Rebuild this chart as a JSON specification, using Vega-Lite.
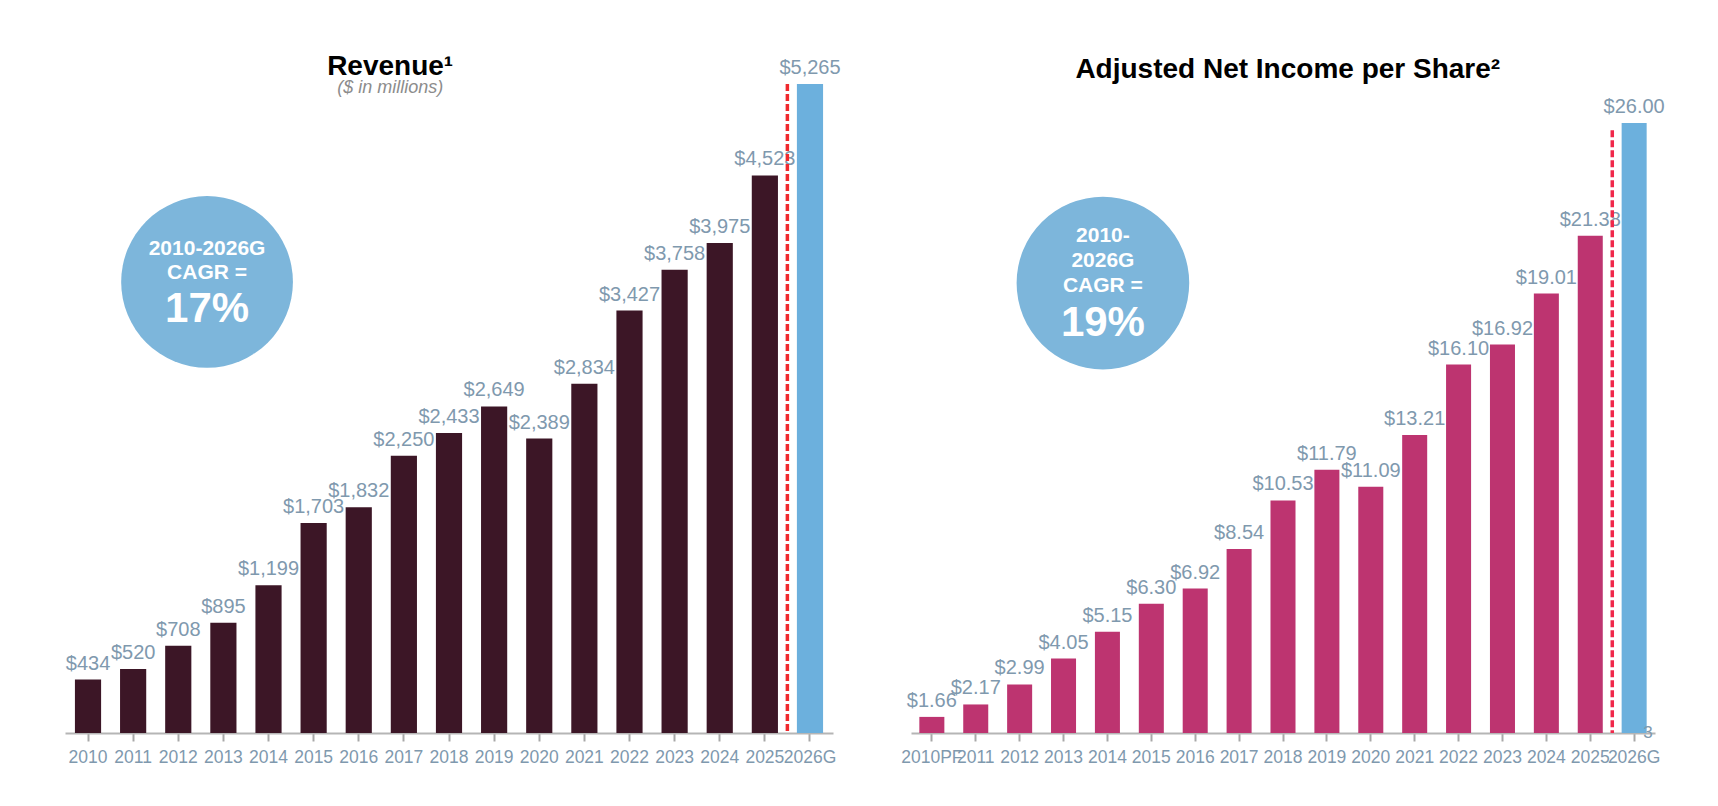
{
  "$schema": "https://vega.github.io/schema/vega-lite/v6.json",
  "background": "white",
  "padding": {"left": 65, "top": 53, "right": 5, "bottom": 5},
  "bounds": "flush",
  "spacing": 78,
  "config": {
    "view": {"stroke": null},
    "font": "Liberation Sans",
    "axis": {"grid": false, "title": null}
  },
  "datasets": {
    "revenue": [
      {"year": "2010", "value": 434, "kind": "Actual"},
      {"year": "2011", "value": 520, "kind": "Actual"},
      {"year": "2012", "value": 708, "kind": "Actual"},
      {"year": "2013", "value": 895, "kind": "Actual"},
      {"year": "2014", "value": 1199, "kind": "Actual"},
      {"year": "2015", "value": 1703, "kind": "Actual"},
      {"year": "2016", "value": 1832, "kind": "Actual"},
      {"year": "2017", "value": 2250, "kind": "Actual"},
      {"year": "2018", "value": 2433, "kind": "Actual"},
      {"year": "2019", "value": 2649, "kind": "Actual"},
      {"year": "2020", "value": 2389, "kind": "Actual"},
      {"year": "2021", "value": 2834, "kind": "Actual"},
      {"year": "2022", "value": 3427, "kind": "Actual"},
      {"year": "2023", "value": 3758, "kind": "Actual"},
      {"year": "2024", "value": 3975, "kind": "Actual"},
      {"year": "2025", "value": 4523, "kind": "Actual"},
      {"year": "2026G", "value": 5265, "kind": "Guidance"}
    ],
    "eps": [
      {"year": "2010PF", "value": 1.66, "kind": "Actual"},
      {"year": "2011", "value": 2.17, "kind": "Actual"},
      {"year": "2012", "value": 2.99, "kind": "Actual"},
      {"year": "2013", "value": 4.05, "kind": "Actual"},
      {"year": "2014", "value": 5.15, "kind": "Actual"},
      {"year": "2015", "value": 6.30, "kind": "Actual"},
      {"year": "2016", "value": 6.92, "kind": "Actual"},
      {"year": "2017", "value": 8.54, "kind": "Actual"},
      {"year": "2018", "value": 10.53, "kind": "Actual"},
      {"year": "2019", "value": 11.79, "kind": "Actual"},
      {"year": "2020", "value": 11.09, "kind": "Actual"},
      {"year": "2021", "value": 13.21, "kind": "Actual"},
      {"year": "2022", "value": 16.10, "kind": "Actual"},
      {"year": "2023", "value": 16.92, "kind": "Actual"},
      {"year": "2024", "value": 19.01, "kind": "Actual"},
      {"year": "2025", "value": 21.38, "kind": "Actual"},
      {"year": "2026G", "value": 26.00, "kind": "Guidance"}
    ]
  },
  "resolve": {"scale": {"x": "independent", "y": "independent", "color": "independent"}},
  "hconcat": [
    {
      "width": 768,
      "height": 649,
      "layer": [
        {
          "data": {"name": "revenue"},
          "mark": {"type": "bar"},
          "encoding": {
            "x": {
              "field": "year", "type": "nominal",
              "scale": {"domain": ["2010","2011","2012","2013","2014","2015","2016","2017","2018","2019","2020","2021","2022","2023","2024","2025","2026G"], "paddingInner": 0.42, "paddingOuter": 0.22},
              "axis": {"labelAngle": 0, "labelFontSize": 17.5, "labelColor": "#7f99ae", "labelPadding": 7, "domainColor": "#b5b5b5", "domainWidth": 2, "tickColor": "#a8a8a8", "tickWidth": 2, "tickSize": 8, "labelOverlap": false}
            },
            "y": {"field": "value", "type": "quantitative", "scale": {"domain": [0, 5265], "nice": false}, "axis": null},
            "color": {"field": "kind", "type": "nominal", "scale": {"domain": ["Actual", "Guidance"], "range": ["#3c1626", "#6cb0dd"]}, "legend": null}
          }
        },
        {
          "data": {"name": "revenue"},
          "mark": {"type": "text", "baseline": "alphabetic", "dy": -10, "fontSize": 20, "color": "#7f99ae"},
          "encoding": {
            "x": {"field": "year", "type": "nominal"},
            "y": {"field": "value", "type": "quantitative", "axis": null},
            "text": {"field": "value", "type": "quantitative", "format": "$,.0f"}
          }
        },
        {
          "data": {"values": [{"year": "2016", "t": "Revenue¹"}]},
          "mark": {"type": "text", "baseline": "alphabetic", "dy": -9, "fontSize": 28, "fontWeight": "bold", "color": "#000000"},
          "encoding": {
            "x": {"field": "year", "type": "nominal", "bandPosition": 1.7},
            "y": {"datum": 5265, "type": "quantitative", "axis": null},
            "text": {"field": "t"}
          }
        },
        {
          "data": {"values": [{"year": "2016", "t": "($ in millions)"}]},
          "mark": {"type": "text", "baseline": "alphabetic", "dy": 9, "fontSize": 18, "fontStyle": "italic", "color": "#8c8c8c"},
          "encoding": {
            "x": {"field": "year", "type": "nominal", "bandPosition": 1.7},
            "y": {"datum": 5265, "type": "quantitative", "axis": null},
            "text": {"field": "t"}
          }
        },
        {
          "data": {"values": [{"year": "2025"}]},
          "mark": {"type": "rule", "color": "#f0282d", "strokeWidth": 3.5, "strokeDash": [7, 3]},
          "encoding": {
            "x": {"field": "year", "type": "nominal", "bandPosition": 1.36},
            "y": {"datum": 5265, "type": "quantitative", "axis": null},
            "y2": {"datum": 0}
          }
        },
        {
          "data": {"values": [{"year": "2012"}]},
          "mark": {"type": "point", "shape": "circle", "filled": true, "size": 29500, "color": "#7db6db", "opacity": 1},
          "encoding": {
            "x": {"field": "year", "type": "nominal", "bandPosition": 1.6},
            "y": {"datum": 3659, "type": "quantitative", "axis": null}
          }
        },
        {
          "data": {"values": [{"year": "2012", "t": "2010-2026G"}]},
          "mark": {"type": "text", "baseline": "alphabetic", "dy": -27, "fontSize": 21, "fontWeight": "bold", "color": "white"},
          "encoding": {
            "x": {"field": "year", "type": "nominal", "bandPosition": 1.6},
            "y": {"datum": 3659, "type": "quantitative", "axis": null},
            "text": {"field": "t"}
          }
        },
        {
          "data": {"values": [{"year": "2012", "t": "CAGR ="}]},
          "mark": {"type": "text", "baseline": "alphabetic", "dy": -3, "fontSize": 21, "fontWeight": "bold", "color": "white"},
          "encoding": {
            "x": {"field": "year", "type": "nominal", "bandPosition": 1.6},
            "y": {"datum": 3659, "type": "quantitative", "axis": null},
            "text": {"field": "t"}
          }
        },
        {
          "data": {"values": [{"year": "2012", "t": "17%"}]},
          "mark": {"type": "text", "baseline": "alphabetic", "dy": 40, "fontSize": 42, "fontWeight": "bold", "color": "white"},
          "encoding": {
            "x": {"field": "year", "type": "nominal", "bandPosition": 1.6},
            "y": {"datum": 3659, "type": "quantitative", "axis": null},
            "text": {"field": "t"}
          }
        }
      ]
    },
    {
      "width": 744,
      "height": 649,
      "layer": [
        {
          "data": {"name": "eps"},
          "mark": {"type": "bar"},
          "encoding": {
            "x": {
              "field": "year", "type": "nominal",
              "scale": {"domain": ["2010PF","2011","2012","2013","2014","2015","2016","2017","2018","2019","2020","2021","2022","2023","2024","2025","2026G"], "paddingInner": 0.43, "paddingOuter": 0.19},
              "axis": {"labelAngle": 0, "labelFontSize": 17.5, "labelColor": "#7f99ae", "labelPadding": 7, "domainColor": "#b5b5b5", "domainWidth": 2, "tickColor": "#a8a8a8", "tickWidth": 2, "tickSize": 8, "labelOverlap": false}
            },
            "y": {"field": "value", "type": "quantitative", "scale": {"domain": [1, 27.6], "zero": false, "nice": false}, "axis": null},
            "y2": {"datum": 1},
            "color": {"field": "kind", "type": "nominal", "scale": {"domain": ["Actual", "Guidance"], "range": ["#bd3470", "#6cb0dd"]}, "legend": null}
          }
        },
        {
          "data": {"name": "eps"},
          "mark": {"type": "text", "baseline": "alphabetic", "dy": -10, "fontSize": 20, "color": "#7f99ae"},
          "encoding": {
            "x": {"field": "year", "type": "nominal"},
            "y": {"field": "value", "type": "quantitative", "axis": null},
            "text": {"field": "value", "type": "quantitative", "format": "$.2f"}
          }
        },
        {
          "data": {"values": [{"year": "2018", "t": "Adjusted Net Income per Share²"}]},
          "mark": {"type": "text", "baseline": "alphabetic", "dy": -6, "fontSize": 28, "fontWeight": "bold", "color": "#000000"},
          "encoding": {
            "x": {"field": "year", "type": "nominal", "bandPosition": 0.69},
            "y": {"datum": 27.6, "type": "quantitative", "axis": null},
            "text": {"field": "t"}
          }
        },
        {
          "data": {"values": [{"year": "2025"}]},
          "mark": {"type": "rule", "color": "#f0284a", "strokeWidth": 3.5, "strokeDash": [7, 3]},
          "encoding": {
            "x": {"field": "year", "type": "nominal", "bandPosition": 1.38},
            "y": {"datum": 25.7, "type": "quantitative", "axis": null},
            "y2": {"datum": 1}
          }
        },
        {
          "data": {"values": [{"year": "2026G", "t": "3"}]},
          "mark": {"type": "text", "baseline": "middle", "fontSize": 17, "color": "#7f99ae"},
          "encoding": {
            "x": {"field": "year", "type": "nominal", "bandPosition": 1.05},
            "y": {"datum": 1, "type": "quantitative", "axis": null},
            "text": {"field": "t"}
          }
        },
        {
          "data": {"values": [{"year": "2014"}]},
          "mark": {"type": "point", "shape": "circle", "filled": true, "size": 29800, "color": "#7db6db", "opacity": 1},
          "encoding": {
            "x": {"field": "year", "type": "nominal", "bandPosition": 0.32},
            "y": {"datum": 19.44, "type": "quantitative", "axis": null}
          }
        },
        {
          "data": {"values": [{"year": "2014", "t": "2010-"}]},
          "mark": {"type": "text", "baseline": "alphabetic", "dy": -41, "fontSize": 21, "fontWeight": "bold", "color": "white"},
          "encoding": {
            "x": {"field": "year", "type": "nominal", "bandPosition": 0.32},
            "y": {"datum": 19.44, "type": "quantitative", "axis": null},
            "text": {"field": "t"}
          }
        },
        {
          "data": {"values": [{"year": "2014", "t": "2026G"}]},
          "mark": {"type": "text", "baseline": "alphabetic", "dy": -16, "fontSize": 21, "fontWeight": "bold", "color": "white"},
          "encoding": {
            "x": {"field": "year", "type": "nominal", "bandPosition": 0.32},
            "y": {"datum": 19.44, "type": "quantitative", "axis": null},
            "text": {"field": "t"}
          }
        },
        {
          "data": {"values": [{"year": "2014", "t": "CAGR ="}]},
          "mark": {"type": "text", "baseline": "alphabetic", "dy": 9, "fontSize": 21, "fontWeight": "bold", "color": "white"},
          "encoding": {
            "x": {"field": "year", "type": "nominal", "bandPosition": 0.32},
            "y": {"datum": 19.44, "type": "quantitative", "axis": null},
            "text": {"field": "t"}
          }
        },
        {
          "data": {"values": [{"year": "2014", "t": "19%"}]},
          "mark": {"type": "text", "baseline": "alphabetic", "dy": 53, "fontSize": 42, "fontWeight": "bold", "color": "white"},
          "encoding": {
            "x": {"field": "year", "type": "nominal", "bandPosition": 0.32},
            "y": {"datum": 19.44, "type": "quantitative", "axis": null},
            "text": {"field": "t"}
          }
        }
      ]
    }
  ]
}
